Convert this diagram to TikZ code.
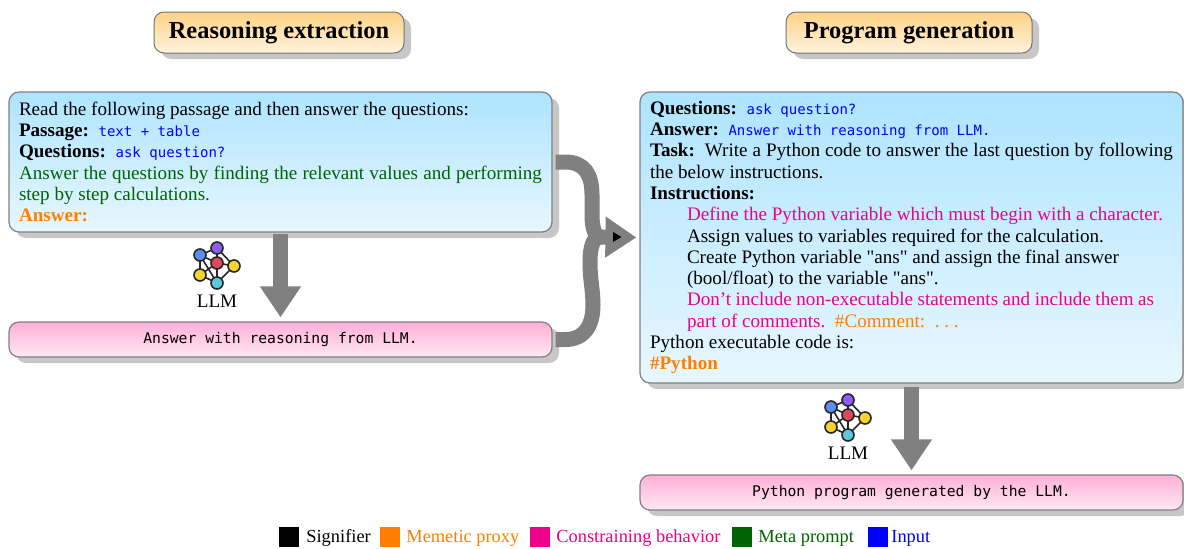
\documentclass[tikz,border=0pt]{standalone}
\usepackage{fontspec}
\setmainfont[Ligatures=TeXOff]{Liberation Serif}
\newfontfamily\promptmono[Scale=0.735]{DejaVu Sans Mono}
\usetikzlibrary{arrows.meta,shadows,positioning}

\definecolor{proxyorange}{HTML}{FF8000}
\definecolor{rulepink}{HTML}{EC008C}
\definecolor{metagreen}{HTML}{006400}
\definecolor{titletop}{HTML}{FFD285}
\definecolor{titlebot}{HTML}{FFF3DE}
\definecolor{prompttop}{HTML}{AEE4FF}
\definecolor{promptbot}{HTML}{E8F7FF}
\definecolor{outtop}{HTML}{FFB0D8}
\definecolor{outbot}{HTML}{FFE8F3}

\tikzset{
  softshadow/.style={drop shadow={shadow xshift=3.5pt,shadow yshift=-3pt,fill=black!22,opacity=1}},
  titlebox/.style={draw=black!55,line width=0.5pt,rounded corners=5pt,softshadow,top color=titletop,bottom color=titlebot,
    minimum height=20.5pt,font=\fontsize{12.2}{14}\selectfont\bfseries},
  promptbox/.style={draw=black!50,line width=0.6pt,rounded corners=5pt,softshadow,top color=prompttop,bottom color=promptbot,
    text width=261.5pt,inner xsep=5pt,inner ysep=0pt,align=justify,font=\fontsize{9.55}{10.65}\selectfont},
  outbox/.style={draw=black!50,line width=0.6pt,rounded corners=5pt,softshadow,top color=outtop,bottom color=outbot,
    text width=261.5pt,inner xsep=5pt,minimum height=17.5pt,align=flush center,font=\fontsize{10}{12}\selectfont\promptmono},
  bigline/.style={draw=black!50,line width=7.5pt},
  bigarrow/.style={bigline,-{Triangle[length=15.5pt,width=19.5pt]}},
  legendbox/.style={fill,minimum size=10pt,inner sep=0pt},
  legendtext/.style={anchor=west,inner sep=0pt,font=\fontsize{9.2}{12}\selectfont},
  llmnode/.style={circle,draw=black!85,line width=0.8pt,minimum size=6pt,inner sep=0pt},
  llmicon/.pic={
    \draw[black!85,line width=0.8pt] (-17,-10)--(0,-17) (-17,-10)--(0,-2) (-17,-10)--(0,18) (-17,-10)--(-17,10)
      (0,-17)--(17,1) (0,-17)--(0,-2) (0,-2)--(17,1) (0,-2)--(0,18) (0,-2)--(-17,10) (17,1)--(0,18) (-17,10)--(0,18);
    \node[llmnode,fill={rgb,255:red,91;green,141;blue,239}] (-blue) at(-17,-10) {};
    \node[llmnode,fill={rgb,255:red,139;green,92;blue,246}] (-purple) at(0,-17) {};
    \node[llmnode,fill={rgb,255:red,224;green,71;blue,91}] (-red) at(0,-2) {};
    \node[llmnode,fill={rgb,255:red,245;green,212;blue,49}] (-right) at(17,1) {};
    \node[llmnode,fill={rgb,255:red,245;green,212;blue,49}] (-left) at(-17,10) {};
    \node[llmnode,fill={rgb,255:red,91;green,200;blue,220}] (-cyan) at(0,18) {};
  }
}

\begin{document}
\begin{tikzpicture}[x=0.5pt,y=-0.5pt]
\useasboundingbox (0,0) rectangle (1184,548);

% titles
\node[titlebox,minimum width=125pt] (reasontitle) at(279,32.5) {Reasoning extraction};
\node[titlebox,minimum width=123pt] (programtitle) at(909,32.5) {Program generation};

% left column
\node[promptbox,minimum height=70pt] (inputbox) at(280.5,162) {
Read the following passage and then answer the questions:\\
\textbf{Passage:}\ \ {\promptmono\color{blue}text + table}\\
\textbf{Questions:}\ \ {\promptmono\color{blue}ask question?}\\
{\color{metagreen}Answer the questions by finding the relevant values and performing step by step calculations.}\\
{\color{proxyorange}\textbf{Answer:}}};
\node[outbox] (answerbox) at(280.5,339.5) {Answer with reasoning from LLM.};

% right column
\node[promptbox,minimum height=145.5pt] (codebox) at(911.5,237.5) {
\textbf{Questions:}\ \ {\promptmono\color{blue}ask question?}\\
\textbf{Answer:}\ \ {\promptmono\color{blue}Answer with reasoning from LLM.}\\
\textbf{Task:}\ \ Write a Python code to answer the last question by following the below instructions.\\
\textbf{Instructions:}\\
\hspace*{18.5pt}\makebox[238pt][s]{\color{rulepink}Define the Python variable which must begin with a character.}\\
\hspace*{18.5pt}Assign values to variables required for the calculation.\\
\hspace*{18.5pt}\makebox[216pt][s]{Create Python variable "ans" and assign the final answer}\\
\hspace*{18.5pt}(bool/float) to the variable "ans".\\
\hspace*{18.5pt}\makebox[233.5pt][s]{\color{rulepink}Don’t include non-executable statements and include them as}\\
\hspace*{18.5pt}{\color{rulepink}part of comments.}\ \ {\color{proxyorange}\#Comment:\ \ .\ .\ .}\\
Python executable code is:\\
{\color{proxyorange}\textbf{\#Python}}};
\node[outbox] (programbox) at(911.5,492.5) {Python program generated by the LLM.};

% llm icons
\pic (llmleft) at(217,265) {llmicon};
\node[inner sep=0pt,font=\fontsize{9.55}{12}\selectfont] (llmlefttext) at(217,301) {LLM};
\pic (llmright) at(848,417) {llmicon};
\node[inner sep=0pt,font=\fontsize{9.55}{12}\selectfont] (llmrighttext) at(848,453) {LLM};

% arrows
\draw[bigarrow,shorten <=0.5pt,shorten >=2pt] (inputbox.south) -- (answerbox.north);
\draw[bigarrow,shorten <=1.5pt,shorten >=2pt] (codebox.south) -- (programbox.north);

% merging arrow
\coordinate (join) at(600,237);
\draw[bigline,shorten <=1.5pt] (inputbox.east) -- (565,162) .. controls (585,162) and (592,175) .. (592,195) -- (592,215) .. controls (592,230) and (596,237) .. (join);
\draw[bigline,shorten <=1.5pt] (answerbox.east) -- (565,339.5) .. controls (585,339.5) and (593,325) .. (593,305) .. controls (593,290) and (590,280) .. (590,262) .. controls (590,245) and (594,237) .. (join);
\draw[bigarrow,shorten >=1.5pt] (join) -- (codebox.west);
\fill[black] (613,232) -- (621.5,237) -- (613,242) -- cycle;

% legend
\node[legendbox,black] (sqsignifier) at(289,537) {};
\node[legendtext] (signifier) at(306,538) {Signifier};
\node[legendbox,proxyorange] (sqproxy) at(390,537) {};
\node[legendtext,proxyorange] (proxy) at(406,538) {Memetic proxy};
\node[legendbox,rulepink] (sqbehavior) at(540,537) {};
\node[legendtext,rulepink] (behavior) at(556,538) {Constraining behavior};
\node[legendbox,metagreen] (sqmeta) at(742,537) {};
\node[legendtext,metagreen] (meta) at(758,538) {Meta prompt};
\node[legendbox,blue] (sqinput) at(878,537) {};
\node[legendtext,blue] (input) at(891,538) {Input};
\end{tikzpicture}
\end{document}
